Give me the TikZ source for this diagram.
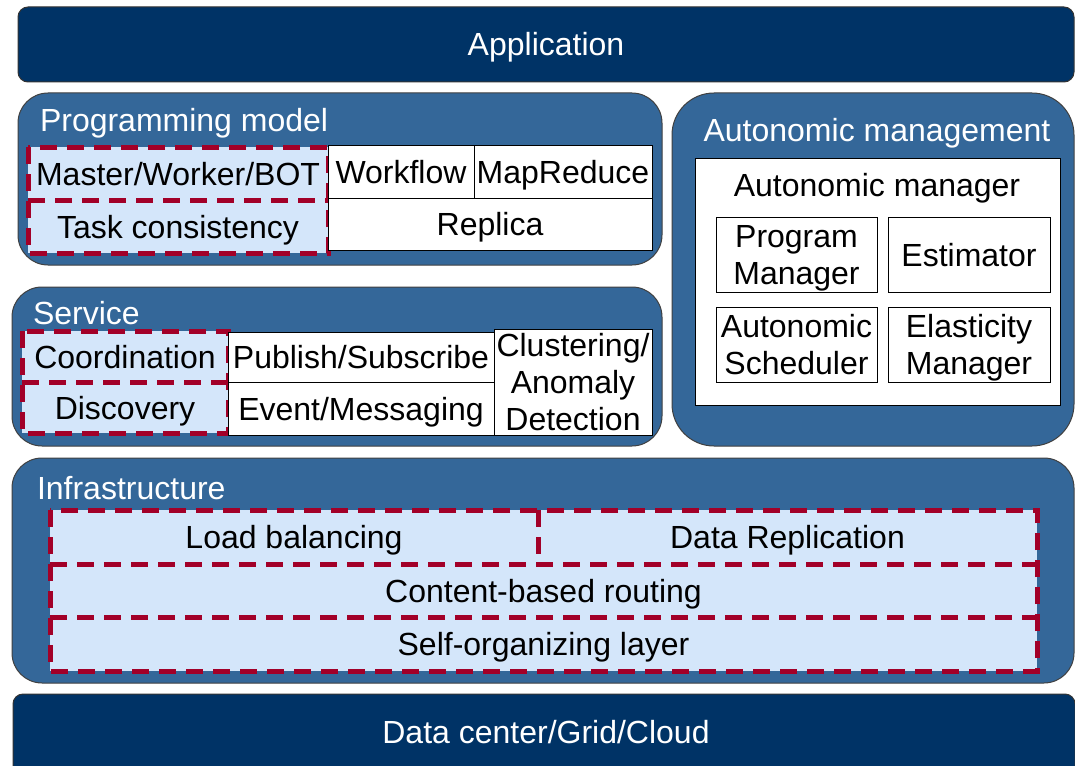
\documentclass[tikz,border=0pt]{standalone}
\usepackage{fontspec}
\setmainfont{Liberation Sans}
\definecolor{navy}{RGB}{0,51,102}
\definecolor{midblue}{RGB}{52,103,153}
\definecolor{paleblue}{RGB}{212,230,250}
\definecolor{dred}{RGB}{162,0,40}
\begin{document}
\begin{tikzpicture}[x=1pt,y=-1pt,
  every node/.style={font=\fontsize{32}{37}\selectfont, inner sep=0pt, outer sep=0pt,
    text height=23pt, text depth=0pt},
  twolines/.style={text height=60pt},
  threelines/.style={text height=97pt},
  sz/.style 2 args={minimum width=#1pt, minimum height=#2pt, anchor=north west},
  bar/.style={draw=black!80, fill=navy, rounded corners=10pt, text=white, line width=1pt},
  layer/.style={draw=black!75, fill=midblue, line width=1pt},
  title/.style={text=white, anchor=west},
  cell/.style={draw=black, fill=white, line width=1pt, align=center},
  pale/.style={fill=paleblue, align=center},
  redline/.style={draw=dred, line width=5pt, dash pattern=on 17pt off 10pt},
]
\useasboundingbox (0,0) rectangle (1075,765);
\clip (0,0) rectangle (1075,765);
\fill[white] (0,0) rectangle (1075,765);

% top and bottom bars
\node[bar, sz={1056}{75}] (app) at (18,7) {Application};
\node[bar, sz={1062}{85}] (dc) at (13,694) {};
\node[text=white] (dctext) at (546,732) {Data center/Grid/Cloud};

% layer panels
\node[layer, rounded corners=30pt, sz={644}{172}] (prog) at (18,93) {};
\node[layer, rounded corners=30pt, sz={650}{159}] (serv) at (12,287) {};
\node[layer, rounded corners=42pt, sz={402}{353}] (auto) at (672,93) {};
\node[layer, rounded corners=30pt, sz={1062}{225}] (infra) at (12,458) {};

\node[title] (progt) at (40,120) {Programming model};
\node[title] (servt) at (33,313) {Service};
\node[title, anchor=center] (autot) at (877,130) {Autonomic management};
\node[title] (infrat) at (37,488) {Infrastructure};

% programming model cells
\node[pale, sz={300}{53}] (mw) at (28,147) {Master/Worker/BOT};
\node[pale, sz={300}{53}] (tc) at (28,200) {Task consistency};
\draw[redline] (mw.north west) rectangle (tc.south east);
\draw[redline] (mw.south west) -- (mw.south east);
\node[cell, sz={146}{53}] (wf) at (328,145) {Workflow};
\node[cell, sz={178}{53}] (mr) at (474,145) {MapReduce};
\node[cell, sz={324}{52}] (rep) at (328,198) {Replica};

% service cells
\node[pale, sz={206}{51}] (coord) at (22,331) {Coordination};
\node[pale, sz={206}{51}] (disc) at (22,382) {Discovery};
\draw[redline] (coord.north west) rectangle (disc.south east);
\draw[redline] (coord.south west) -- (coord.south east);
\node[cell, sz={266}{50}] (pub) at (228,332) {Publish/Subscribe};
\node[cell, sz={266}{53}] (evt) at (228,382) {Event/Messaging};
\node[cell, threelines, sz={158}{106}] (clu) at (494,329) {Clustering/\\Anomaly\\Detection};

% autonomic manager
\node[cell, sz={365}{247}] (am) at (695,158) {};
\node (amt) at (877,185) {Autonomic manager};
\node[cell, twolines, sz={161}{75}] (pm) at (716,217) {Program\\Manager};
\node[cell, sz={162}{75}] (est) at (888,217) {Estimator};
\node[cell, twolines, sz={161}{75}] (as) at (716,307) {Autonomic\\Scheduler};
\node[cell, twolines, sz={162}{75}] (em) at (888,307) {Elasticity\\Manager};

% infrastructure cells
\node[pale, sz={488}{54}] (lb) at (50,510) {Load balancing};
\node[pale, sz={499}{54}] (dr) at (538,510) {Data Replication};
\node[pale, sz={987}{53}] (cbr) at (50,564) {Content-based routing};
\node[pale, sz={987}{54}] (sol) at (50,617) {Self-organizing layer};
\draw[redline] (lb.north west) rectangle (sol.south east);
\draw[redline] (lb.north east) -- (lb.south east);
\draw[redline] (cbr.north west) -- (cbr.north east);
\draw[redline] (sol.north west) -- (sol.north east);
\end{tikzpicture}
\end{document}
